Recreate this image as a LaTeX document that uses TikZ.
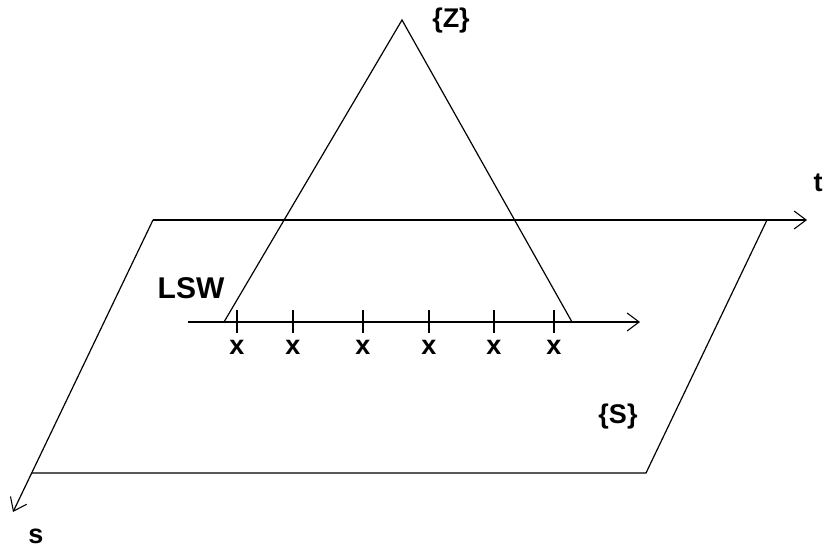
\documentclass[tikz,border=0pt]{standalone}
\usepackage{fontspec}
\setmainfont{Liberation Sans}
\usetikzlibrary{arrows.meta}
\begin{document}
\begin{tikzpicture}[x=1pt,y=-1pt,
  ln/.style={line width=1.2pt,black},
  arr/.style={ln,-{Straight Barb[length=12pt,width=18pt,line width=1.1pt]}},
  lbl/.style={font=\bfseries\fontsize{27}{30}\selectfont,inner sep=0pt},
  tk/.style={ln}]
\path[use as bounding box,fill=white] (0,0) rectangle (828,554);
% parallelogram corners
\coordinate (tl) at (153,220);
\coordinate (tr) at (767,220);
\coordinate (br) at (646,473);
\coordinate (bl) at (32,473);
\coordinate (tend) at (807,220);
\coordinate (send) at (13,512);
\draw[arr] (tl) -- (tend);
\draw[arr] (tl) -- (send);
\draw[ln] (tr) -- (br) -- (bl);
% triangle
\coordinate (apex) at (402,20);
\coordinate (lb) at (224,322);
\coordinate (rb) at (572,322);
\draw[ln] (lb) -- (apex) -- (rb);
% LSW axis
\coordinate (a0) at (188,322);
\coordinate (a1) at (640,322);
\draw[arr] (a0) -- (a1);
\foreach \i/\xx in {1/237,2/293,3/363,4/429,5/494,6/554}{
  \draw[tk] (\xx,310) -- (\xx,333);
  \node[lbl] (x\i) at (\xx,347) {x};
}
\node[lbl,font=\bfseries\fontsize{30}{32}\selectfont] (lsw) at (191,288) {LSW};
\node[lbl] (t) at (818,183) {t};
\node[lbl] (s) at (36,536) {s};
\node[lbl] (z) at (451,21) {\{Z\}};
\node[lbl] (S) at (618,417) {\{S\}};
\end{tikzpicture}
\end{document}
